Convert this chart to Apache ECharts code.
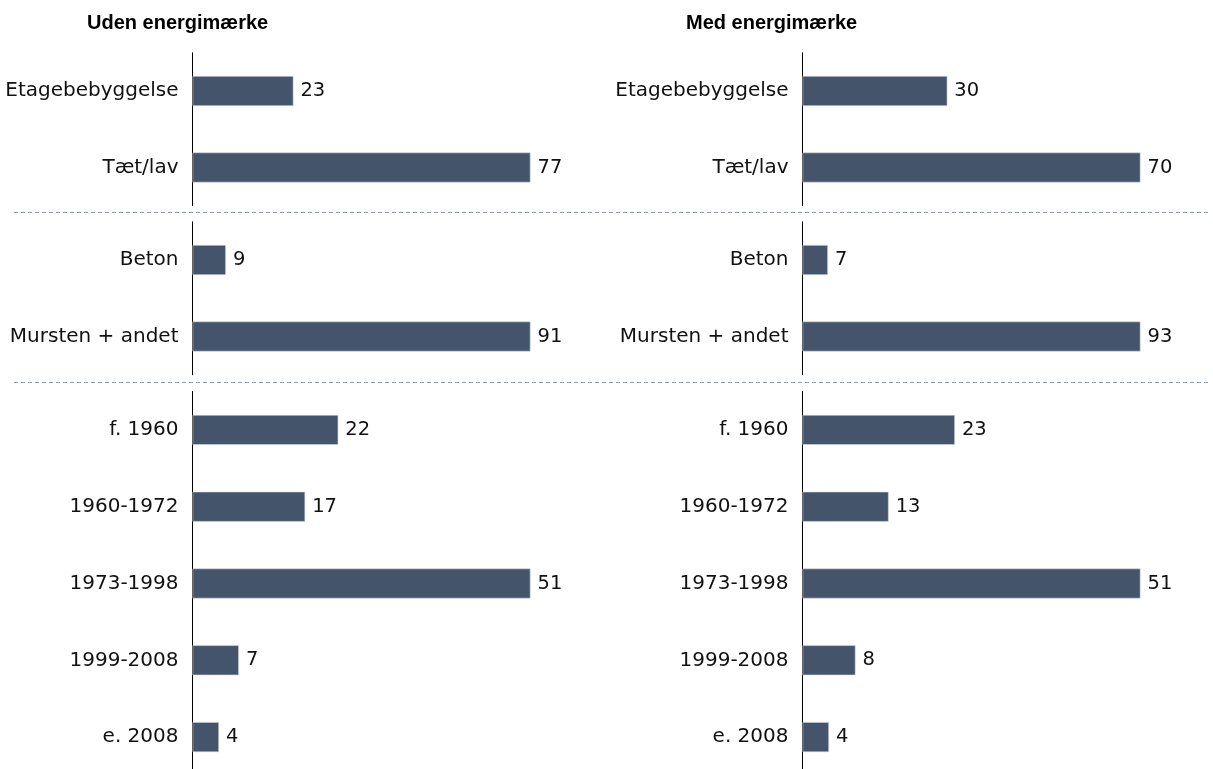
<!DOCTYPE html>
<html><head><meta charset="utf-8">
<script src="https://cdn.jsdelivr.net/npm/echarts@6/dist/echarts.min.js"></script>
<style>html,body{margin:0;padding:0;background:#fff;overflow:hidden;height:769px}#c{width:1213px;height:800px}</style>
</head><body><div id="c"></div>
<script>
const panelTitles = ['Uden energimærke', 'Med energimærke'];
const catsType = ['Etagebebyggelse', 'Tæt/lav'];
const catsMaterial = ['Beton', 'Mursten + andet'];
const catsAge = ['f. 1960', '1960-1972', '1973-1998', '1999-2008', 'e. 2008'];
const udenType = [23, 77];
const udenMaterial = [9, 91];
const udenAge = [22, 17, 51, 7, 4];
const medType = [30, 70];
const medMaterial = [7, 93];
const medAge = [23, 13, 51, 8, 4];

const groups = [
  {cats: catsType, top: 52.75, band: 76.5, data: [udenType, medType]},
  {cats: catsMaterial, top: 221.75, band: 76.5, data: [udenMaterial, medMaterial]},
  {cats: catsAge, top: 391.5, band: 76.8, data: [udenAge, medAge]}
];
const cols = [{left: 192.5, width: 338}, {left: 802.5, width: 338}];
const font = 'Verdana, "DejaVu Sans", sans-serif';
const grid = [], xAxis = [], yAxis = [], series = [];
let idx = 0;
groups.forEach(g => {
  cols.forEach((c, ci) => {
    grid.push({left: c.left, top: g.top, width: c.width, height: g.cats.length * g.band, containLabel: false});
    xAxis.push({type: 'value', gridIndex: idx, min: 0, max: 'dataMax', show: false});
    yAxis.push({type: 'category', gridIndex: idx, data: g.cats, inverse: true,
      axisLine: {show: true, lineStyle: {color: '#000', width: 1}},
      axisTick: {show: false}, splitLine: {show: false},
      axisLabel: {color: '#111', fontSize: 20, fontFamily: font, margin: 14}});
    series.push({type: 'bar', xAxisIndex: idx, yAxisIndex: idx, data: g.data[ci], barWidth: 30,
      itemStyle: {color: '#44546A', borderColor: '#d9dde3', borderWidth: 0.6},
      label: {show: true, position: 'right', distance: 7, color: '#111', fontSize: 19.5, fontFamily: font},
      silent: true, animation: false});
    idx++;
  });
});
const dash = y => ({type: 'line', shape: {x1: 14, y1: y, x2: 1210, y2: y},
  style: {stroke: '#8a99b0', lineWidth: 1, lineDash: [4, 3]}});
const chart = echarts.init(document.getElementById('c'), null, {renderer: 'canvas'});
chart.setOption({
  animation: false,
  grid, xAxis, yAxis, series,
  graphic: [
    dash(212.5), dash(382.5),
    {type: 'text', left: 87, top: 13, style: {text: panelTitles[0], font: 'bold 20px "Liberation Sans", Arial, sans-serif', fill: '#000'}},
    {type: 'text', left: 686, top: 13, style: {text: panelTitles[1], font: 'bold 20px "Liberation Sans", Arial, sans-serif', fill: '#000'}}
  ]
});
</script></body></html>
